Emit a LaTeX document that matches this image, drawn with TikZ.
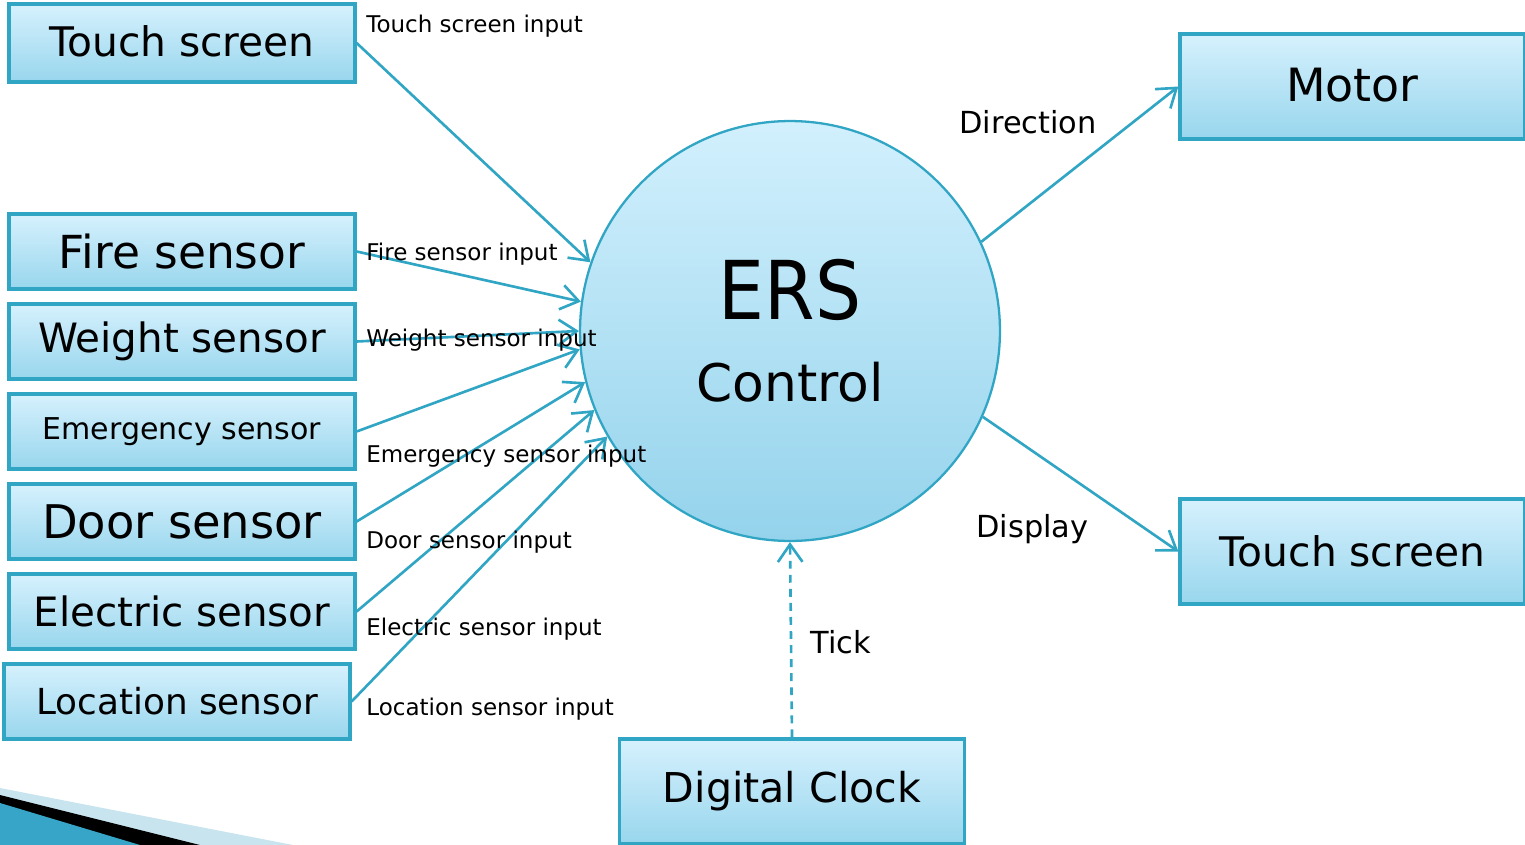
\documentclass[tikz,border=0pt]{standalone}
\usepackage{fontspec}
\setmainfont{DejaVu Sans}
\usetikzlibrary{arrows.meta}
\definecolor{lineblue}{RGB}{49,165,196}
\definecolor{boxtop}{RGB}{214,241,253}
\definecolor{boxbot}{RGB}{152,214,237}
\definecolor{circtop}{RGB}{210,240,253}
\definecolor{circbot}{RGB}{148,211,236}
\definecolor{decolight}{RGB}{200,228,238}
\definecolor{decoblue}{RGB}{55,165,200}
\newcommand{\fsz}[1]{\fontsize{#1}{1.2\dimexpr#1\relax}\selectfont}
\tikzset{
  sbox/.style={draw=lineblue, line width=1.9pt, top color=boxtop, bottom color=boxbot,
    minimum width=6.92cm, minimum height=1.5cm, inner sep=0pt, text=black},
  bbox/.style={sbox, minimum width=6.9cm, minimum height=2.1cm},
  flow/.style={draw=lineblue, line width=1.5pt, -{Straight Barb[length=10pt,width=14pt,line width=1.5pt]}},
  lbl/.style={anchor=base west, inner sep=0pt, font=\fsz{13.1pt}},
  mlbl/.style={anchor=base west, inner sep=0pt, font=\fsz{17.3pt}},
}
\begin{document}
\begin{tikzpicture}[x=0.02cm, y=-0.02cm]
\useasboundingbox (0,0) rectangle (1525,845);
% decoration bottom-left
\fill[decolight] (0,788) -- (293,845) -- (0,845) -- cycle;
\fill[black] (0,795) -- (200,845) -- (0,845) -- cycle;
\fill[decoblue] (0,803) -- (140,845) -- (0,845) -- cycle;
% central process
\node[circle, draw=lineblue, line width=1.3pt, top color=circtop, bottom color=circbot,
  minimum size=8.4cm, inner sep=0pt, align=center, font=\fsz{44pt}]
  (ers) at (790,331) {\scalebox{0.94}[1.05]{ERS}\\[-6pt]{\fsz{29.5pt}Control}};
% left boxes
\node[sbox, minimum height=1.56cm, font=\fsz{23.2pt}] (ts1) at (182,43) {\raisebox{2pt}{Touch screen}};
\node[sbox, font=\fsz{25.9pt}] (fire) at (182,251.5) {Fire sensor};
\node[sbox, font=\fsz{23pt}] (weight) at (182,341.5) {Weight sensor};
\node[sbox, font=\fsz{17.1pt}] (emerg) at (182,431.5) {Emergency sensor};
\node[sbox, font=\fsz{26.4pt}] (door) at (182,521.5) {Door sensor};
\node[sbox, font=\fsz{23pt}] (elec) at (182,611.5) {Electric sensor};
\node[sbox, font=\fsz{20.4pt}] (loc) at (177,701.5) {Location sensor};
% right boxes
\node[bbox, font=\fsz{26.1pt}] (motor) at (1352.5,86.5) {\raisebox{2pt}{Motor}};
\node[bbox, font=\fsz{23.2pt}] (ts2) at (1352.5,551.5) {Touch screen};
\node[bbox, font=\fsz{23.4pt}] (clock) at (792,791.5) {Digital Clock};
% connectors
\draw[flow] (ts1.east) -- (ers.161.6);
\draw[flow] (fire.east) -- (ers.172);
\draw[flow] (weight.east) -- (ers.180.5);
\draw[flow] (emerg.east) -- (ers.185.4);
\draw[flow] (door.east) -- (ers.194);
\draw[flow] (elec.east) -- (ers.202.5);
\draw[flow] (loc.east) -- (ers.210.6);
\draw[flow] (ers.25) -- (motor.west);
\draw[flow] (ers.336) -- (ts2.west);
\draw[flow, dash pattern=on 4.5pt off 3.5pt] (clock.north) -- (ers.south);
% labels
\node[lbl] (l1) at (366,32) {Touch screen input};
\node[lbl] (l2) at (366,260) {Fire sensor input};
\node[lbl] (l3) at (366,346) {Weight sensor input};
\node[lbl] (l4) at (366,462) {Emergency sensor input};
\node[lbl] (l5) at (366,548) {Door sensor input};
\node[lbl] (l6) at (366,635) {Electric sensor input};
\node[lbl] (l7) at (366,715) {Location sensor input};
\node[mlbl] (l8) at (959,133) {Direction};
\node[mlbl] (l9) at (976,537) {Display};
\node[mlbl] (l10) at (810,653) {Tick};
\end{tikzpicture}
\end{document}
